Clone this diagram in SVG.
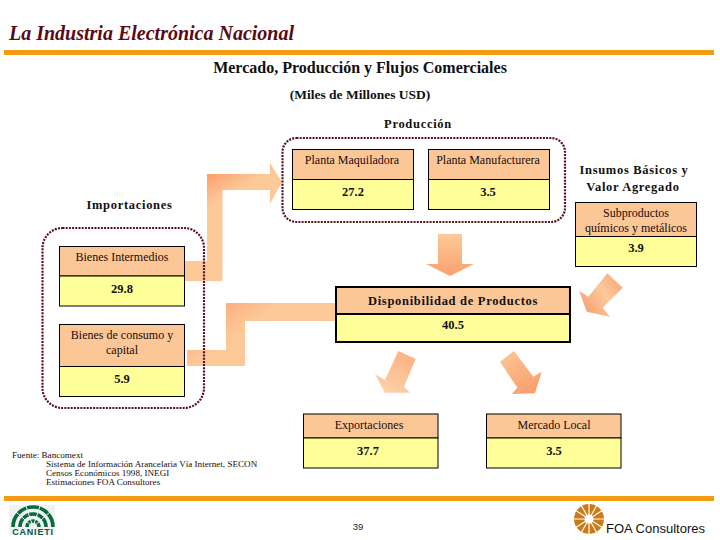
<svg xmlns="http://www.w3.org/2000/svg" width="720" height="540" viewBox="0 0 720 540">
<style>
text{font-family:"Liberation Serif","Times New Roman",serif;fill:#1a0a0a;text-anchor:middle}
.h{font-size:12.5px;font-weight:bold;letter-spacing:.7px;fill:#111}
.l{font-size:12px}
.v{font-size:12.5px;font-weight:bold;fill:#111}
.f{font-size:9.1px;text-anchor:start}
.hd{fill:#fcc797;stroke:#000;stroke-width:1}
.vl{fill:#ffff99;stroke:#000;stroke-width:1}
.hb{fill:#fcc797;stroke:#000;stroke-width:2}
.vb{fill:#ffff99;stroke:#000;stroke-width:2}
.fr{fill:none;stroke:#5a1020;stroke-width:2.2;stroke-dasharray:2 1.2}
.bar{fill:#f39c12}
</style>
<defs>
<linearGradient id="g2" gradientUnits="userSpaceOnUse" x1="207" y1="174" x2="222" y2="200">
<stop offset="0" stop-color="#fb9f6c"/><stop offset="1" stop-color="#fdc999"/>
</linearGradient>
<linearGradient id="g7" gradientUnits="userSpaceOnUse" x1="226" y1="303" x2="245" y2="330">
<stop offset="0" stop-color="#fbb080"/><stop offset="1" stop-color="#fdc999"/>
</linearGradient>
<linearGradient id="g3" gradientUnits="userSpaceOnUse" x1="450" y1="234" x2="450" y2="276">
<stop offset="0" stop-color="#fdc999"/><stop offset="1" stop-color="#f9a06f"/>
</linearGradient>
<linearGradient id="g4" gradientUnits="userSpaceOnUse" x1="622" y1="280" x2="585" y2="305">
<stop offset="0" stop-color="#f9a678"/><stop offset=".5" stop-color="#fdc999"/><stop offset="1" stop-color="#f9a678"/>
</linearGradient>
<linearGradient id="g5" gradientUnits="userSpaceOnUse" x1="410" y1="352" x2="390" y2="392">
<stop offset="0" stop-color="#fcb080"/><stop offset="1" stop-color="#fbd0a8"/>
</linearGradient>
<linearGradient id="g6" gradientUnits="userSpaceOnUse" x1="505" y1="355" x2="525" y2="393">
<stop offset="0" stop-color="#fdc292"/><stop offset="1" stop-color="#f9a06f"/>
</linearGradient>
</defs>
<rect width="720" height="540" fill="#fff"/>

<g id="header">
<text x="9" y="40" style="font-size:20px;font-weight:bold;font-style:italic;text-anchor:start;fill:#5a0a14">La Industria Electrónica Nacional</text>
<rect class="bar" x="4" y="50" width="710" height="5"/>
<text x="360" y="73" style="font-size:16px;font-weight:bold;fill:#111">Mercado, Producción y Flujos Comerciales</text>
<text x="360" y="99" style="font-size:13.5px;font-weight:bold;fill:#111">(Miles de Millones USD)</text>
<text x="418" y="128" class="h">Producción</text>
<text x="129.5" y="209" class="h">Importaciones</text>
<text x="634" y="174" class="h">Insumos Básicos y</text>
<text x="633" y="191" class="h">Valor Agregado</text>
</g>

<g id="connectors">
<path style="fill:url(#g2)" d="M185 261H207V174H270V163L282 182L270 204V190H222.5V281H185Z"/>
<path style="fill:url(#g7)" d="M187 350H226V303H336V321H245V366H187Z"/>
<path style="fill:url(#g3)" d="M438 234H462V264H474L450 276L426 264H438Z"/>
<path style="fill:url(#g4)" d="M607.3 273.3L622.7 287.7L602.7 307.7L610 316.7L586.7 311.7L579.3 291L588.3 296.7Z"/>
<path style="fill:url(#g5)" d="M398.3 351L415.7 359L404 386.7L410 392.7H385L375 374.3L385 380Z"/>
<path style="fill:url(#g6)" d="M514 351L500 361.7L517.3 387.7L511.7 394L535 393.3L541.7 371.7L533.3 376.7Z"/>
</g>

<rect class="fr" x="42.5" y="228" width="161.5" height="180" rx="20"/>
<rect class="fr" x="282.5" y="138" width="282.5" height="84" rx="14"/>

<g id="bienes-intermedios">
<rect class="hd" x="59.5" y="246.5" width="125" height="29.5"/><rect class="vl" x="59.5" y="276" width="125" height="30"/>
<text x="122" y="261" class="l">Bienes Intermedios</text><text x="122" y="293" class="v">29.8</text>
</g>
<g id="bienes-consumo">
<rect class="hd" x="59.5" y="324.5" width="125" height="42"/><rect class="vl" x="59.5" y="366.5" width="125" height="30"/>
<text x="122" y="339" class="l">Bienes de consumo y</text><text x="122" y="354" class="l">capital</text><text x="122" y="383" class="v">5.9</text>
</g>
<g id="planta-maquiladora">
<rect class="hd" x="292.5" y="149.5" width="121" height="30"/><rect class="vl" x="292.5" y="179.5" width="121" height="30"/>
<text x="352" y="164" class="l">Planta Maquiladora</text><text x="353" y="196" class="v">27.2</text>
</g>
<g id="planta-manufacturera">
<rect class="hd" x="428.5" y="149.5" width="121" height="30"/><rect class="vl" x="428.5" y="179.5" width="121" height="30"/>
<text x="488" y="164" class="l">Planta Manufacturera</text><text x="488" y="196" class="v">3.5</text>
</g>
<g id="subproductos">
<rect class="hd" x="575.5" y="202.5" width="121" height="34"/><rect class="vl" x="575.5" y="236.5" width="121" height="30"/>
<text x="636" y="217" class="l">Subproductos</text><text x="636" y="232" class="l">químicos y metálicos</text><text x="636" y="252" class="v">3.9</text>
</g>
<g id="disponibilidad">
<rect class="hb" x="336" y="287" width="234" height="27"/><rect class="vb" x="336" y="314" width="234" height="28"/>
<text x="453" y="305" class="h">Disponibilidad de Productos</text><text x="453" y="329" class="v">40.5</text>
</g>
<g id="exportaciones">
<rect class="hd" x="303.5" y="414" width="134.5" height="24"/><rect class="vl" x="303.5" y="438" width="134.5" height="30"/>
<text x="369" y="429" class="l">Exportaciones</text><text x="368" y="455" class="v">37.7</text>
</g>
<g id="mercado-local">
<rect class="hd" x="486.5" y="414" width="134.5" height="24"/><rect class="vl" x="486.5" y="438" width="134.5" height="30"/>
<text x="554" y="429" class="l">Mercado Local</text><text x="554" y="455" class="v">3.5</text>
</g>

<g id="footer">
<text x="12" y="458" class="f">Fuente: Bancomext</text>
<text x="46" y="467" class="f">Sistema de Información Arancelaria Vía Internet, SECON</text>
<text x="46" y="476" class="f">Censos Económicos 1998, INEGI</text>
<text x="46" y="485" class="f">Estimaciones FOA Consultores</text>
<rect class="bar" x="4" y="496" width="710" height="5"/>
<text x="358" y="530" style="font-family:'Liberation Sans',Arial,sans-serif;font-size:9.5px;fill:#222">39</text>
</g>

<g id="logo-canieti">
<rect x="9" y="505" width="46" height="30" fill="#eef2f4"/>
<g fill="none" stroke="#0a6a3a" stroke-width="3.6">
<path d="M13 527A20 20 0 0 1 53 527"/>
<path d="M20 527A13 13 0 0 1 46 527"/>
<path d="M27 527A6 6 0 0 1 39 527"/>
</g>
<g stroke="#eef2f4" stroke-width="1"><path d="M33 527L16 512M33 527L26 506M33 527L40 506M33 527L50 512"/></g>
<rect x="10" y="527" width="45" height="8" fill="#eef2f4"/>
<text x="33" y="534.5" style="font-family:'Liberation Sans',Arial,sans-serif;font-size:9px;font-weight:bold;fill:#0a5a3a;letter-spacing:.8px">CANIETI</text>
</g>

<g id="logo-foa">
<circle cx="589" cy="519" r="15" fill="#cc7a14"/>
<circle cx="589" cy="519" r="4.5" fill="#fff"/>
<g stroke="#fff" stroke-width="1.2"><path d="M589 519V503M589 519L597 505M589 519L603 510M589 519H605M589 519L603 528M589 519L597 533M589 519V535M589 519L581 533M589 519L575 528M589 519H573M589 519L575 510M589 519L581 505"/></g>
<text x="606" y="533" style="font-family:'Liberation Sans',Arial,sans-serif;font-size:13px;text-anchor:start;fill:#111">FOA Consultores</text>
</g>
</svg>
